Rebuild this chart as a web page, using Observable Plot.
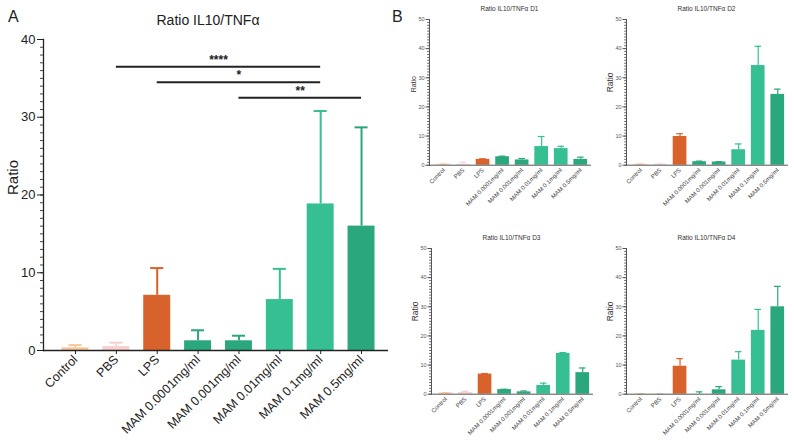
<!DOCTYPE html>
<html><head><meta charset="utf-8">
<script src="https://cdn.jsdelivr.net/npm/d3@7"></script>
<script src="https://cdn.jsdelivr.net/npm/@observablehq/plot@0.6"></script>
<style>
body{margin:0;background:#fff;}
#root{position:relative;width:794px;height:443px;overflow:hidden;font-family:"Liberation Sans",Arial,sans-serif;background:#fff;}
.p{position:absolute;}
.lbl{position:absolute;font-size:16px;color:#222;line-height:1;}
</style></head><body><div id="root"></div>
<script>
// ---------- data ----------
const categories = ["Control","PBS","LPS","MAM 0.0001mg/ml","MAM 0.001mg/ml","MAM 0.01mg/ml","MAM 0.1mg/ml","MAM 0.5mg/ml"];
const barColors = ["#f6c99c","#f8d0d0","#d8622b","#2ba77d","#2ba77d","#35bf92","#35bf92","#2ba77d"];

const meanA = [0.35, 0.5, 7.1, 1.25, 1.25, 6.55, 18.85, 16.0];
const sdA   = [0.35, 0.5, 3.5, 1.35, 0.65, 3.95, 11.95, 12.7];

const sigFrom  = [1, 2, 4];
const sigTo    = [6, 6, 7];
const sigY     = [36.5, 34.5, 32.5];
const sigLabel = ["****", "*", "**"];

const meanD1 = [0.3, 0.3, 2.0, 2.9, 1.8, 6.4, 5.7, 2.0];
const sdD1   = [0.1, 0.7, 0.2, 0.2, 0.5, 3.45, 0.8, 0.75];
const meanD2 = [0.3, 0.3, 9.85, 1.2, 1.1, 5.3, 34.2, 24.3];
const sdD2   = [0.1, 0.1, 0.95, 0.2, 0.1, 2.0, 6.6, 1.8];
const meanD3 = [0.45, 0.6, 6.9, 1.6, 0.8, 3.0, 14.0, 7.4];
const sdD3   = [0.1, 0.4, 0.2, 0.1, 0.3, 0.8, 0.3, 1.6];
const meanD4 = [0.1, 0.1, 9.6, 0.0, 1.5, 11.7, 21.9, 30.0];
const sdD4   = [0.05, 0.05, 2.6, 0.8, 1.1, 2.9, 7.2, 7.0];

const yTicksA = [0, 10, 20, 30, 40];
const yTicksB = [0, 10, 20, 30, 40, 50];

const root = document.getElementById("root");
const FONT = '"Liberation Sans", Arial, sans-serif';

function rows(means, sds) {
  return categories.map((c, i) => ({i, c, m: means[i], s: sds[i], col: barColors[i]}));
}

// ---------- Panel A ----------
(function () {
  const data = rows(meanA, sdA);
  const sig = sigFrom.map((a, k) => ({a, b: sigTo[k], y: sigY[k], label: sigLabel[k]}));
  const svg = Plot.plot({
    width: 400, height: 443,
    marginLeft: 43, marginRight: 12, marginTop: 39, marginBottom: 93,
    style: {fontFamily: FONT, fontSize: "13px", color: "#222", background: "transparent"},
    x: {domain: [-0.783, 7.66], axis: null},
    y: {domain: [0, 40], axis: null},
    color: {type: "identity"},
    marks: [
      Plot.rect(data, {x1: d => d.i - 0.33, x2: d => d.i + 0.33, y1: 0, y2: "m", fill: "col"}),
      Plot.ruleX(data, {x: "i", y1: "m", y2: d => d.m + d.s, stroke: "col", strokeWidth: 2}),
      Plot.ruleY(data, {x1: d => d.i - 0.16, x2: d => d.i + 0.16, y: d => d.m + d.s, stroke: "col", strokeWidth: 2}),
      Plot.ruleY([0], {stroke: "#222", strokeWidth: 1.5}),
      Plot.frame({anchor: "left", stroke: "#222", strokeWidth: 1.3}),
      Plot.axisY({ticks: d3.range(0, 41, 1), tickSize: 3, tickFormat: () => "", label: null, stroke: "#444"}),
      Plot.axisY({ticks: yTicksA, tickSize: 6, tickPadding: 2, fontSize: 13, label: null, stroke: "#222", fill: "#222"}),
      Plot.axisX({ticks: d3.range(0, 8), tickFormat: i => categories[i], tickRotate: -45, tickSize: 4, tickPadding: 3, fontSize: 12.5, label: null, stroke: "#222", fill: "#222"}),
      Plot.ruleY(sig, {x1: "a", x2: "b", y: "y", stroke: "#222", strokeWidth: 2}),
      Plot.text(sig, {x: d => (d.a + d.b) / 2, y: "y", text: "label", dy: -7, fontSize: 12, fontWeight: "bold", fill: "#222"}),
      Plot.text(["Ratio IL10/TNFα"], {frameAnchor: "top", dy: -24, dx: -8, fontSize: 14, fill: "#222"}),
      Plot.text(["Ratio"], {frameAnchor: "left", rotate: -90, dx: -30, fontSize: 15, fill: "#222"})
    ]
  });
  svg.classList.add("p");
  svg.style.left = "0px"; svg.style.top = "0px";
  root.appendChild(svg);
})();

// ---------- Panel B ----------
function small(title, means, sds, left, top, labelSize) {
  const data = rows(means, sds);
  const svg = Plot.plot({
    width: 205, height: 215,
    marginLeft: 40, marginRight: 3, marginTop: 19, marginBottom: 50.3,
    style: {fontFamily: FONT, fontSize: "6px", color: "#444", background: "transparent"},
    x: {domain: [-0.74, 7.55], axis: null},
    y: {domain: [0, 50], axis: null},
    color: {type: "identity"},
    marks: [
      Plot.rect(data, {x1: d => d.i - 0.35, x2: d => d.i + 0.35, y1: 0, y2: "m", fill: "col"}),
      Plot.ruleX(data, {x: "i", y1: "m", y2: d => d.m + d.s, stroke: "col", strokeWidth: 1.2}),
      Plot.ruleY(data, {x1: d => d.i - 0.17, x2: d => d.i + 0.17, y: d => d.m + d.s, stroke: "col", strokeWidth: 1.2}),
      Plot.ruleY([0], {stroke: "#555", strokeWidth: 1}),
      Plot.frame({anchor: "left", stroke: "#555", strokeWidth: 1}),
      Plot.axisY({ticks: d3.range(0, 51, 1), tickSize: 1.8, tickFormat: () => "", label: null, stroke: "#666"}),
      Plot.axisY({ticks: yTicksB, tickSize: 3.5, tickPadding: 1.5, fontSize: 5.5, label: null, stroke: "#555", fill: "#555"}),
      Plot.axisX({ticks: d3.range(0, 8), tickFormat: i => categories[i], tickRotate: -45, tickSize: 0, tickPadding: 4, fontSize: 6, label: null, fill: "#444"}),
      Plot.text([title], {frameAnchor: "top", dy: -13, dx: -1, fontSize: 6.5, fill: "#333"}),
      Plot.text(["Ratio"], {frameAnchor: "left", rotate: -90, dx: -16, fontSize: labelSize, fill: "#333"})
    ]
  });
  svg.classList.add("p");
  svg.style.left = left + "px"; svg.style.top = top + "px";
  root.appendChild(svg);
}
small("Ratio IL10/TNFα D1", meanD1, sdD1, 389, 0, 7);
small("Ratio IL10/TNFα D2", meanD2, sdD2, 586, 0, 8.5);
small("Ratio IL10/TNFα D3", meanD3, sdD3, 391, 229.3, 8.5);
small("Ratio IL10/TNFα D4", meanD4, sdD4, 586, 229.3, 8.5);

// panel letters
for (const [t, x, y] of [["A", 8, 9], ["B", 392, 9]]) {
  const el = document.createElement("div");
  el.className = "lbl"; el.textContent = t;
  el.style.left = x + "px"; el.style.top = y + "px";
  root.appendChild(el);
}
</script>
</body></html>
